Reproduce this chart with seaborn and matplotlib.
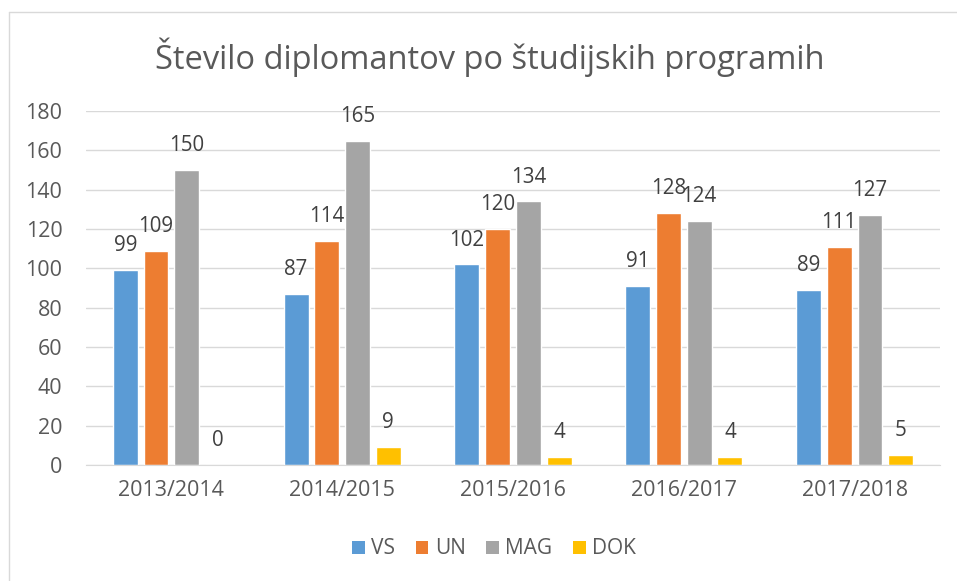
import matplotlib
matplotlib.use("Agg")
import matplotlib.pyplot as plt
import seaborn as sns
import pandas as pd
from matplotlib.lines import Line2D
from matplotlib.patches import Patch

years = ["2013/2014", "2014/2015", "2015/2016", "2016/2017", "2017/2018"]
series = ["VS", "UN", "MAG", "DOK"]
vs = [99, 87, 102, 91, 89]
un = [109, 114, 120, 128, 111]
mag = [150, 165, 134, 124, 127]
dok = [0, 9, 4, 4, 5]
colors = ["#5B9BD5", "#ED7D31", "#A5A5A5", "#FFC000"]
yticks = [0, 20, 40, 60, 80, 100, 120, 140, 160, 180]
title = "Število diplomantov po študijskih programih"

rows = []
for name, vals in zip(series, [vs, un, mag, dok]):
    for y, v in zip(years, vals):
        rows.append({"Leto": y, "Program": name, "Število": v})
df = pd.DataFrame(rows)

sns.set_style("white")
plt.rcParams["font.family"] = ["Open Sans", "DejaVu Sans"]
txt = "#595959"

fig = plt.figure(figsize=(9.57, 5.81), dpi=100)
ax = fig.add_axes([86/957, 1-465/581, (940-86)/957, (465-111)/581])
sns.barplot(data=df, x="Leto", y="Število", hue="Program", hue_order=series,
            order=years, palette=colors, width=0.72, gap=0.19, ax=ax,
            legend=False, errorbar=None, saturation=1)

ax.set_ylim(0, 180)
ax.set_xlim(-0.5, len(years)-0.5)
ax.set_yticks(yticks)
ax.yaxis.grid(True, color="#D9D9D9", linewidth=1)
ax.set_axisbelow(True)
for s in ["top", "right", "left"]:
    ax.spines[s].set_visible(False)
ax.spines["bottom"].set_color("#D9D9D9")
ax.tick_params(axis="both", length=0, labelsize=15.5, labelcolor=txt)
ax.tick_params(axis="x", pad=11)
ax.tick_params(axis="y", pad=17)
ax.set_xlabel("")
ax.set_ylabel("")

for cont in ax.containers:
    ax.bar_label(cont, fmt="%d", padding=10, fontsize=14.8, color="#404040")

fig.text(490/957, 1-57/581, title, ha="center", va="center", fontsize=23.5, color=txt)

handles = [Patch(facecolor=c, edgecolor="none") for c in colors]
fig.legend(handles, series, loc="center", bbox_to_anchor=(494/957, 1-549/581),
           ncol=4, frameon=False, fontsize=15, handlelength=0.6, handleheight=0.6,
           handletextpad=0.3, columnspacing=1.0, labelcolor=txt)

fig.add_artist(Line2D([9/957, 9/957], [0, 1-12/581], transform=fig.transFigure, color="#D9D9D9", linewidth=1))
fig.add_artist(Line2D([9/957, 1], [1-12/581, 1-12/581], transform=fig.transFigure, color="#D9D9D9", linewidth=1))

fig.savefig("out.png", dpi=100)
